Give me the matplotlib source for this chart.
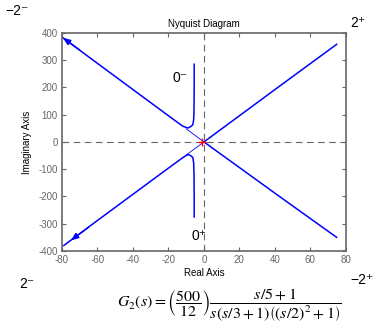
import numpy as np
import matplotlib.pyplot as plt

plt.rcParams['font.family'] = ['Liberation Sans', 'DejaVu Sans']
plt.rcParams['axes.unicode_minus'] = False

# curve points (real, imaginary)
# branch for negative frequencies (top, starts at 0-)
re_top = [-5.5, -5.5, -5.6, -5.8, -6.3, -7.5, -9, -12, -20, -40, -60, -79.5]
im_top = [285, 200, 120, 80, 63, 56, 51, 58, 96, 192, 288, 382]
# branch for positive frequencies (bottom, starts at 0+)
re_bot = [-5.5, -5.5, -5.6, -5.8, -6.3, -7.5, -9, -12, -20, -40, -60, -79]
im_bot = [-275, -200, -120, -76, -57, -50, -46, -58, -96, -192, -288, -380]
# straight arms on the right, coming back to the origin
re_right = [74.8, 40, 10, 0]
im_up = [358, 192, 48, 0]
im_dn = [-350, -188, -47, 0]
# short thin pieces between the bends and the origin
re_inner = [-10, 0]
im_inner = [48, 0]

xticks = [-80, -60, -40, -20, 0, 20, 40, 60, 80]
yticks = [-400, -300, -200, -100, 0, 100, 200, 300, 400]

fig = plt.figure(figsize=(3.79, 3.28), dpi=100)
ax = fig.add_axes([0.1636, 0.2348, 0.749, 0.665])

blue = '#0000ff'
grid_c = '#666666'

ax.axhline(0, color=grid_c, ls=(0, (6, 4)), lw=0.8)
ax.axvline(0, color=grid_c, ls=(0, (6, 4)), lw=0.8)

ax.plot(re_top, im_top, color=blue, lw=1.1)
ax.plot(re_bot, im_bot, color=blue, lw=1.1)
ax.plot(re_right, im_up, color=blue, lw=1.1)
ax.plot(re_right, im_dn, color=blue, lw=1.1)
ax.plot(re_inner, im_inner, color=blue, lw=0.6)
ax.plot(re_inner, [-v for v in im_inner], color=blue, lw=0.6)

# arrows
arrow = dict(arrowstyle='-|>,head_length=0.45,head_width=0.18',
             color=blue, lw=1, shrinkA=0, shrinkB=0, mutation_scale=10)
ax.annotate('', xy=(re_top[-1], im_top[-1]), xytext=(-70, 337), arrowprops=arrow)
ax.annotate('', xy=(-75, -361), xytext=(-65, -313), arrowprops=arrow)

ax.plot([-1], [0], marker='+', color='red', ms=6, mew=1)

ax.text(-13.5, 235, '0\u207b', fontsize=10, ha='center', va='center')
ax.text(-3, -345, '0\u207a', fontsize=10, ha='center', va='center')

ax.set_xlim(-80, 80)
ax.set_ylim(-400, 400)
ax.set_xticks(xticks)
ax.set_yticks(yticks)
ax.tick_params(direction='in', top=True, right=True, labelsize=7,
               colors=grid_c, length=3, width=0.8, pad=3)
for s in ax.spines.values():
    s.set_color(grid_c)
    s.set_linewidth(1.2)

ax.set_title('Nyquist Diagram', fontsize=7, pad=4)
ax.set_xlabel('Real Axis', fontsize=7, labelpad=2)
ax.set_ylabel('Imaginary Axis', fontsize=7, labelpad=5)

fig.text(0.015, 0.965, '\u22122\u207b', fontsize=10, va='center')
fig.text(0.925, 0.93, '2\u207a', fontsize=10, va='center')
fig.text(0.05, 0.135, '2\u207b', fontsize=10, va='center')
fig.text(0.925, 0.145, '\u22122\u207a', fontsize=10, va='center')

fig.text(0.605, 0.068,
         r'$G_2(s)=\left(\dfrac{500}{12}\right)\dfrac{s/5+1}{s(s/3+1)\left((s/2)^2+1\right)}$',
         fontsize=11.5, ha='center', va='center', math_fontfamily='stix')

fig.savefig('out.png', dpi=100)
